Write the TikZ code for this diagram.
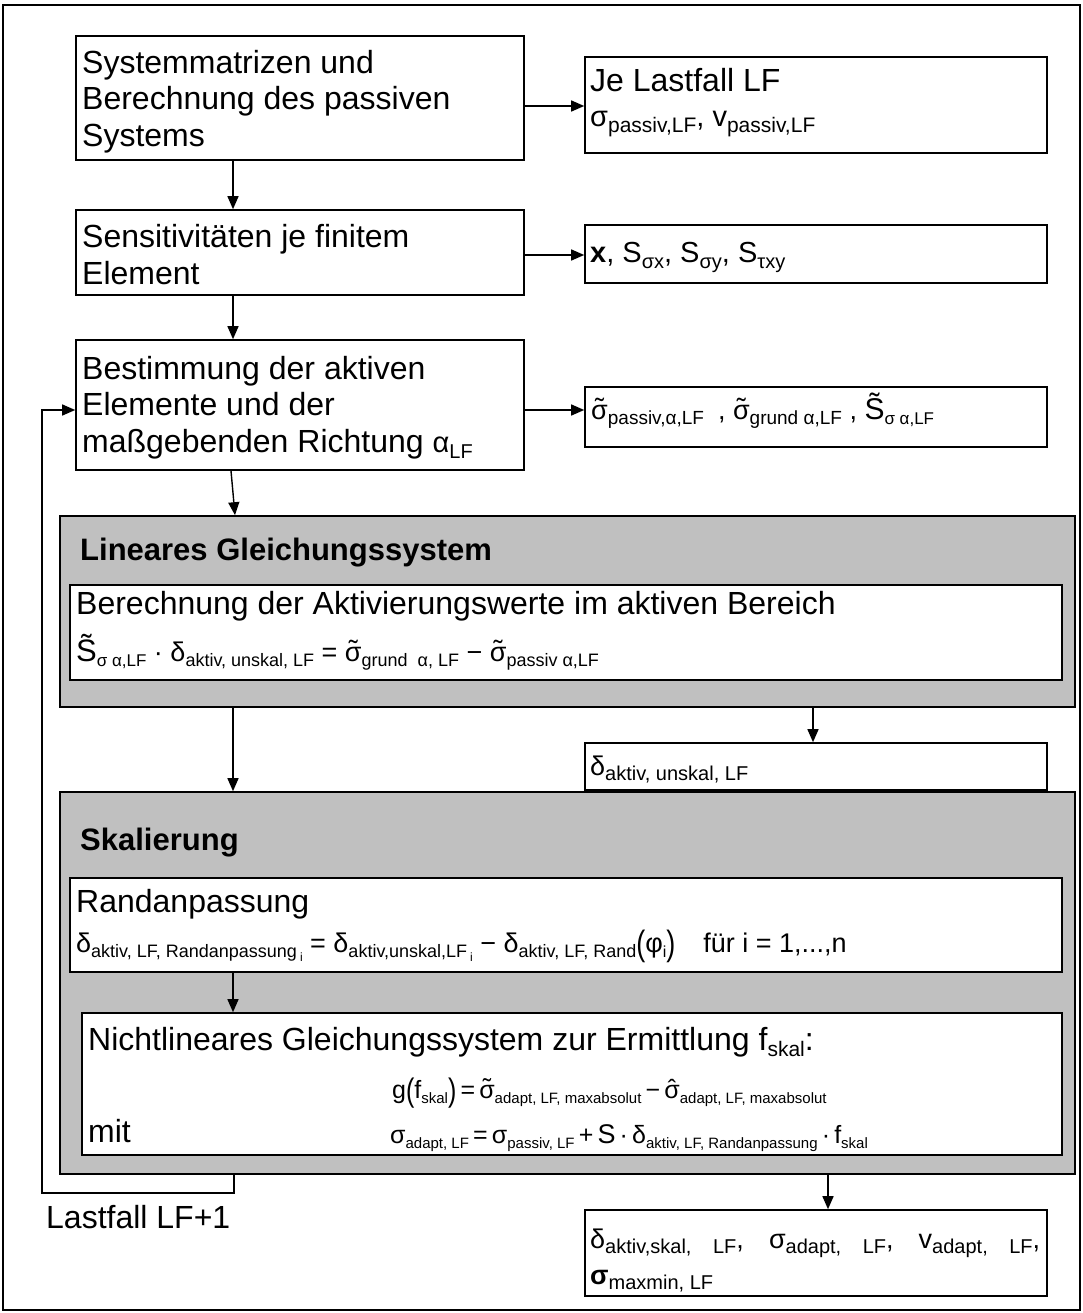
\documentclass[tikz,border=0pt]{standalone}
\usepackage{fontspec}
\setmainfont{Liberation Sans}
\usepackage{graphicx}
\usetikzlibrary{arrows.meta,fit}
\definecolor{panel}{RGB}{192,192,192}

% font size shortcut
\newcommand\fs[1]{\fontsize{#1}{#1}\selectfont}
% lowered subscript in a smaller size
\newcommand\sbx[2][18]{\raisebox{-0.2em}{\fs{#1}#2}}
% tilde / hat accents over a glyph
\newcommand\tld[2][2pt]{\ooalign{#2\cr\hidewidth\raisebox{#1}{˜}\hidewidth\cr}}
\newcommand\hatx[2][1pt]{\ooalign{#2\cr\hidewidth\raisebox{#1}{ˆ}\hidewidth\cr}}
% tall parenthesis
\newcommand\tpar[1]{\raisebox{-0.14em}{\scalebox{1}[1.3]{#1}}}

\tikzset{
  box/.style={draw, line width=1.6pt, inner sep=0pt, fill=white},
  panelbox/.style={draw, line width=1.6pt, inner sep=0pt, fill=panel},
  frame/.style={draw, line width=1.4pt, inner sep=0pt},
  txt/.style={anchor=base west, inner sep=0pt, font=\fs{32}},
  head/.style={anchor=base west, inner sep=0pt, font=\fs{31}\bfseries},
  frm/.style={anchor=base west, inner sep=0pt, font=\fs{27}},
  arr/.style={line width=1.4pt, -{Triangle[length=13pt,width=11pt]}},
  wire/.style={line width=1.4pt}
}

\begin{document}
\begin{tikzpicture}[x=1pt,y=-1pt]
\useasboundingbox (0,0) rectangle (1083,1313);

% outer frame
\node[frame, fit={(3,5)(1080,1310)}] (outer) {};

% left column
\node[box, fit={(76,36)(524,160)}] (b1) {};
\node[box, fit={(76,210)(524,295)}] (b2) {};
\node[box, fit={(76,340)(524,470)}] (b3) {};

% grey panels with their inner boxes
\node[panelbox, fit={(60,516)(1075,707)}] (p1) {};
\node[box, fit={(70,585)(1062,680)}] (w1) {};
\node[panelbox, fit={(60,792)(1075,1174)}] (p2) {};
\node[box, fit={(70,878)(1062,972)}] (w2) {};
\node[box, fit={(82,1013)(1062,1155)}] (w3) {};

% right column
\node[box, fit={(585,57)(1047,153)}] (r1) {};
\node[box, fit={(585,225)(1047,283)}] (r2) {};
\node[box, fit={(585,387)(1047,447)}] (r3) {};
\node[box, fit={(585,743)(1047,790)}] (r4) {};
\node[box, fit={(585,1210)(1047,1296)}] (r5) {};

% lanes for the connectors
\coordinate (cx) at (233,0);
\coordinate (ya) at (0,106);
\coordinate (yb) at (0,255);
\coordinate (yc) at (0,410);
\coordinate (cd) at (813,0);
\coordinate (ce) at (828,0);
\coordinate (loopA) at (234,1193);
\coordinate (loopB) at (42,1193);
\coordinate (loopC) at (42,410);

% connectors
\draw[arr] (b1.east |- ya) -- (r1.west |- ya);
\draw[arr] (b2.east |- yb) -- (r2.west |- yb);
\draw[arr] (b3.east |- yc) -- (r3.west |- yc);
\draw[arr] (b1.south -| cx) -- (b2.north -| cx);
\draw[arr] (b2.south -| cx) -- (b3.north -| cx);
\draw[arr] ([xshift=-2pt]b3.south -| cx) -- ([xshift=2pt]p1.north -| cx);
\draw[arr] (p1.south -| cx) -- (p2.north -| cx);
\draw[arr] (p1.south -| cd) -- (r4.north -| cd);
\draw[arr] (w2.south -| cx) -- (w3.north -| cx);
\draw[arr] (p2.south -| ce) -- (r5.north -| ce);
\draw[arr] (p2.south -| loopA) -- (loopA) -- (loopB) -- (loopC) -- (b3.west |- loopC);

% texts, left column
\node[txt] (t1a) at (82,74) {Systemmatrizen und};
\node[txt] (t1b) at (82,110) {Berechnung des passiven};
\node[txt] (t1c) at (82,147) {Systems};
\node[txt] (t2a) at (82,248) {Sensitivitäten je finitem};
\node[txt] (t2b) at (82,284) {Element};
\node[txt] (t3a) at (82,379) {Bestimmung der aktiven};
\node[txt] (t3b) at (82,415) {Elemente und der};
\node[txt] (t3c) at (82,452) {maßgebenden Richtung {\fs{29}α}\sbx[20]{LF}};

% texts, right column
\node[txt] (s1a) at (590,92) {Je Lastfall LF};
\node[frm, font=\fs{29}] (s1b) at (590,127) {σ\sbx[21]{passiv,LF}, v\sbx[21]{passiv,LF}};
\node[frm, font=\fs{29}] (s2) at (590,263) {\textbf{x}, S\sbx[20]{σx}, S\sbx[20]{σy}, S\sbx[20]{τxy}};
\node[frm] (s3) at (591,419) {\tld{σ}\sbx[19]{passiv,α,LF}\hspace{14pt}, \tld{σ}\sbx[19]{grund α,LF} , {\fs{30}\tld[5pt]{S}}\sbx[17]{σ α,LF}};
\node[frm] (s4) at (590,775) {δ\sbx[20]{aktiv, unskal, LF}};
\node[frm] (s5a) at (590,1248) {\makebox[450pt][s]{δ\sbx[20]{aktiv,skal,} \sbx[20]{LF}, σ\sbx[20]{adapt,} \sbx[20]{LF}, v\sbx[20]{adapt,} \sbx[20]{LF},}};
\node[frm] (s5b) at (590,1284) {\textbf{σ}\sbx[20]{maxmin, LF}};

% panel: linear system
\node[head] (h1) at (80,560) {Lineares Gleichungssystem};
\node[txt] (l1) at (76,614) {Berechnung der Aktivierungswerte im aktiven Bereich};
\node[frm] (l2) at (76,661) {{\fs{31}\tld[5pt]{S}}\sbx[17]{σ α,LF} · δ\sbx[18]{aktiv, unskal, LF} = \tld{σ}\sbx[18]{grund\ \ α, LF} − \tld{σ}\sbx[18]{passiv α,LF}};

% panel: scaling
\node[head] (h2) at (80,850) {Skalierung};
\node[txt] (k1) at (76,912) {Randanpassung};
\node[frm] (k2) at (76,952) {δ\sbx[18]{aktiv, LF, Randanpassung\,\raisebox{-0.25em}{\fs{12}i}} = δ\sbx[18]{aktiv,unskal,LF\,\raisebox{-0.25em}{\fs{12}i}} − δ\sbx[18]{aktiv, LF, Rand}\tpar{(}φ\sbx[16]{i}\tpar{)}\hspace{28pt}für i = 1,...,n};
\node[txt] (n1) at (88,1050) {Nichtlineares Gleichungssystem zur Ermittlung f\sbx[21]{skal}:};
\node[frm, font=\fs{25}] (n2) at (392,1098) {g\tpar{(}f\sbx[15]{skal}\tpar{)}\,=\,\tld{σ}\sbx[15]{adapt, LF, maxabsolut}\,−\,\hatx{σ}\sbx[15]{adapt, LF, maxabsolut}};
\node[txt] (n3) at (88,1142) {mit};
\node[frm, font=\fs{25}] (n4) at (390,1143) {σ\sbx[15]{adapt, LF}\,=\,σ\sbx[15]{passiv, LF}\,+\,{\fs{27}S}\,·\,δ\sbx[15]{aktiv, LF, Randanpassung}\,·\,f\sbx[15]{skal}};

% feedback label
\node[txt] (lf) at (46,1228) {Lastfall LF+1};
\end{tikzpicture}
\end{document}
